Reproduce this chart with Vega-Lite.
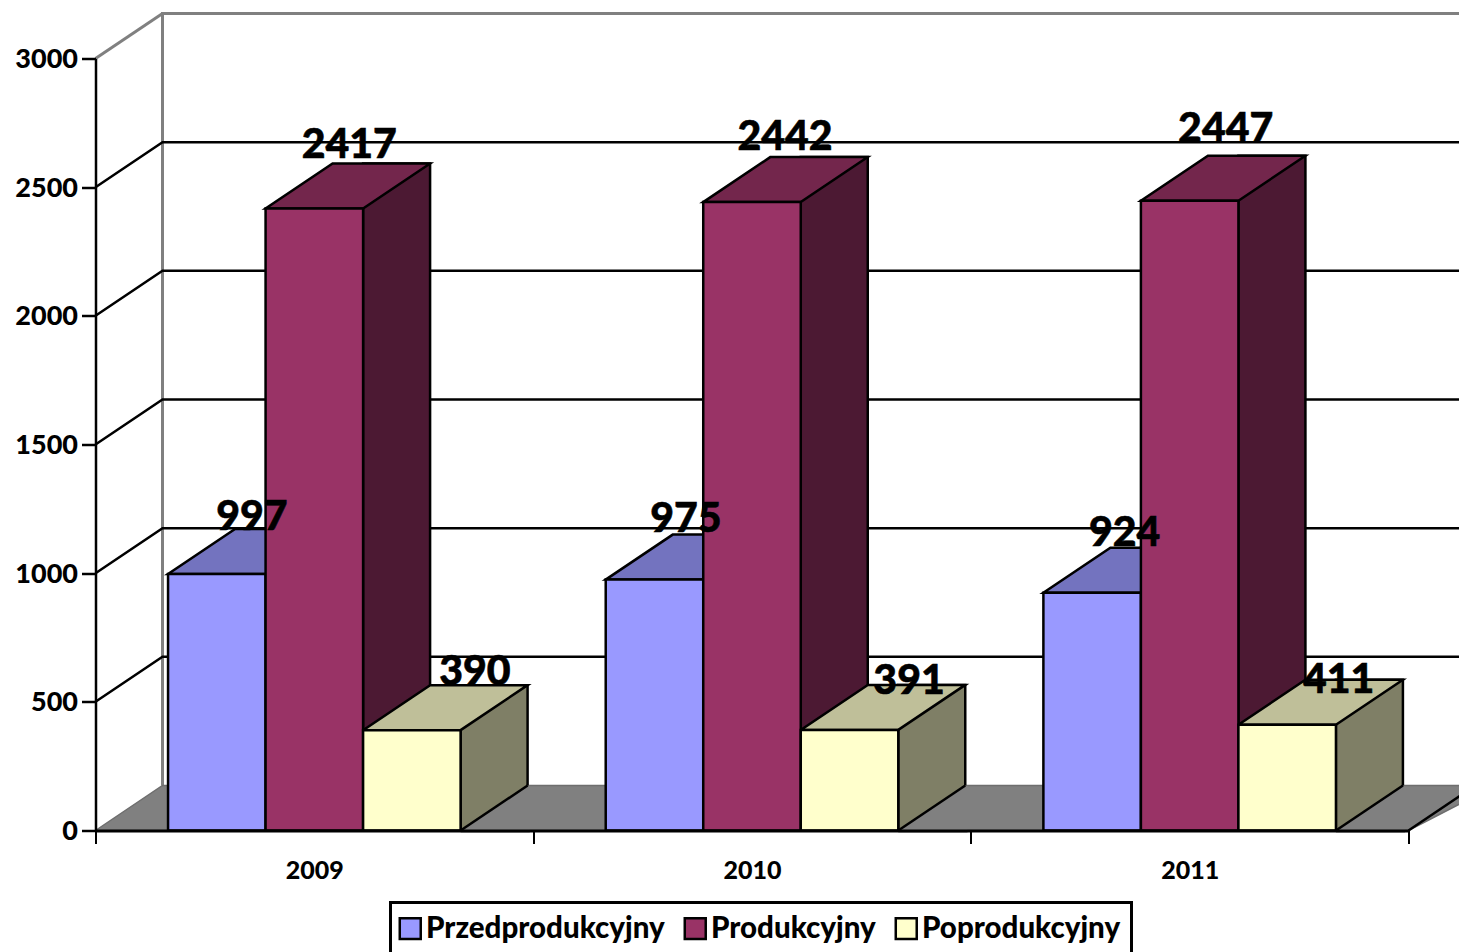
{
"$schema":"https://vega.github.io/schema/vega-lite/v6.json",
"autosize":{"type":"none"},
"padding":{"left":95.5,"top":58.5,"right":50.5,"bottom":121.5},
"width":1313,"height":772,
"background":"white",
"datasets":{
"bars":[
{"year":"2009","series":"Przedprodukcyjny","value":997},
{"year":"2009","series":"Produkcyjny","value":2417},
{"year":"2009","series":"Poprodukcyjny","value":390},
{"year":"2010","series":"Przedprodukcyjny","value":975},
{"year":"2010","series":"Produkcyjny","value":2442},
{"year":"2010","series":"Poprodukcyjny","value":391},
{"year":"2011","series":"Przedprodukcyjny","value":924},
{"year":"2011","series":"Produkcyjny","value":2447},
{"year":"2011","series":"Poprodukcyjny","value":411}],
"ticks":[{"tick":0},{"tick":500},{"tick":1000},{"tick":1500},{"tick":2000},{"tick":2500},{"tick":3000}]
},
"config":{
"font":"Lato",
"view":{"stroke":null},
"text":{"font":"Lato","fontWeight":900,"fontSize":41,"baseline":"middle","align":"center","color":"black","stroke":"black","strokeWidth":0.6},
"point":{"opacity":1,"size":4},
"bar":{"stroke":"black","strokeWidth":2.5,"opacity":1},
"legend":{"strokeWidth":3}
},
"data":{"name":"bars"},
"encoding":{
"x":{"field":"year","type":"nominal","title":null,"scale":{"domain":["2009","2010","2011"],"paddingInner":0,"paddingOuter":0},
"axis":{"zindex":1,"labelAngle":0,"tickBand":"extent","tickSize":13,"tickWidth":2,"tickColor":"black","domainColor":"black","domainWidth":3,"labelFontSize":25,"labelFont":"Lato","labelFontWeight":900,"labelColor":"black","labelPadding":15}},
"y":{"field":"value","type":"quantitative","title":null,"scale":{"domain":[0,3000],"nice":false},
"axis":{"zindex":1,"values":[0,500,1000,1500,2000,2500,3000],"format":"d","grid":false,"tickSize":14,"tickWidth":2.5,"tickColor":"black","domainColor":"black","domainWidth":2.5,"labelFontSize":27,"labelFont":"Lato","labelFontWeight":900,"labelColor":"black","labelPadding":4,"labelOffset":1}}
},
"layer":[
{"data":{"name":"ticks"},"transform":[{"filter":"datum.tick==0"}],
 "mark":{"type":"point","filled":false,"stroke":"#808080","strokeWidth":3,"shape":"M67 -45L67 -817L1400 -817"},
 "encoding":{"x":{"datum":"2009","bandPosition":0},"y":{"field":"tick","type":"quantitative"}}},
{"data":{"name":"ticks"},"transform":[{"filter":"datum.tick==3000"}],
 "mark":{"type":"point","filled":false,"stroke":"#808080","strokeWidth":3,"shape":"M0 0L67 -45"},
 "encoding":{"x":{"datum":"2009","bandPosition":0},"y":{"field":"tick","type":"quantitative"}}},
{"data":{"name":"ticks"},"transform":[{"filter":"datum.tick>0&&datum.tick<3000"}],
 "mark":{"type":"point","filled":false,"stroke":"black","strokeWidth":2.5,"shape":"M0 0L67 -45L1400 -45"},
 "encoding":{"x":{"datum":"2009","bandPosition":0},"y":{"field":"tick","type":"quantitative"}}},
{"data":{"name":"ticks"},"transform":[{"filter":"datum.tick==0"}],
 "mark":{"type":"point","filled":true,"fill":"#808080","stroke":"#6e6e6e","strokeWidth":1.5,"shape":"M0 0L67 -45L1400 -45L1313 0Z"},
 "encoding":{"x":{"datum":"2009","bandPosition":0},"y":{"field":"tick","type":"quantitative"}}},
{"data":{"name":"ticks"},"transform":[{"filter":"datum.tick==0"}],
 "mark":{"type":"point","filled":false,"stroke":"black","strokeWidth":2.5,"shape":"M1313 0L1380 -45"},
 "encoding":{"x":{"datum":"2009","bandPosition":0},"y":{"field":"tick","type":"quantitative"}}},

{"transform":[{"filter":"datum.series=='Przedprodukcyjny'"}],
 "mark":{"type":"bar","width":67,"xOffset":-15.25,"yOffset":-45,"fill":"#4C4C7F"},"encoding":{"y2":{"datum":0}}},
{"transform":[{"filter":"datum.series=='Produkcyjny'"}],
 "mark":{"type":"bar","width":67,"xOffset":82.25,"yOffset":-45,"fill":"#4C1933"},"encoding":{"y2":{"datum":0}}},
{"transform":[{"filter":"datum.series=='Poprodukcyjny'"}],
 "mark":{"type":"bar","width":67,"xOffset":179.75,"yOffset":-45,"fill":"#7F7F66"},"encoding":{"y2":{"datum":0}}},

{"transform":[{"filter":"datum.series=='Przedprodukcyjny'"}],
 "mark":{"type":"point","filled":true,"fill":"#7373BF","stroke":"black","strokeWidth":2.5,"shape":"M-48.75 0L48.75 0L115.75 -45L18.25 -45Z"},
 "encoding":{"xOffset":{"field":"series","type":"nominal"}}},
{"transform":[{"filter":"datum.series=='Produkcyjny'"}],
 "mark":{"type":"point","filled":true,"fill":"#73264C","stroke":"black","strokeWidth":2.5,"shape":"M-48.75 0L48.75 0L115.75 -45L18.25 -45Z"},
 "encoding":{"xOffset":{"field":"series","type":"nominal"}}},
{"transform":[{"filter":"datum.series=='Poprodukcyjny'"}],
 "mark":{"type":"point","filled":true,"fill":"#BFBF99","stroke":"black","strokeWidth":2.5,"shape":"M-48.75 0L48.75 0L115.75 -45L18.25 -45Z"},
 "encoding":{"xOffset":{"field":"series","type":"nominal"}}},

{"transform":[{"filter":"datum.series=='Poprodukcyjny'"}],
 "mark":{"type":"point","filled":true,"fill":"#808080","strokeWidth":0,"shape":"M48.75 0L115.75 -45L118 -45L118 2L48.75 2Z"},
 "encoding":{"xOffset":{"field":"series","type":"nominal"},"y":{"datum":0}}},
{"transform":[{"filter":"datum.series=='Poprodukcyjny'"}],
 "mark":{"type":"point","filled":false,"stroke":"black","strokeWidth":2.5,"shape":"M48.75 0L115.75 -45"},
 "encoding":{"xOffset":{"field":"series","type":"nominal"},"y":{"datum":0}}},

{"mark":{"type":"bar"},
 "encoding":{
  "xOffset":{"field":"series","type":"nominal","scale":{"domain":["Przedprodukcyjny","Produkcyjny","Poprodukcyjny"],"paddingInner":0,"paddingOuter":0.744}},
  "color":{"field":"series","type":"nominal","scale":{"domain":["Przedprodukcyjny","Produkcyjny","Poprodukcyjny"],"range":["#9999FF","#993366","#FFFFCC"]},
   "legend":{"title":null,"orient":"none","legendX":295,"legendY":844,"direction":"horizontal","symbolType":"square","symbolSize":440,"symbolStrokeColor":"black","symbolStrokeWidth":2.5,"symbolOpacity":1,"labelFontSize":29.5,"labelFont":"Lato","labelFontWeight":900,"labelColor":"black","labelLimit":400,"labelOffset":1,"strokeColor":"black","fillColor":"white","padding":11,"columnPadding":14,"symbolOffset":-6}}
 }},

{"transform":[{"filter":"datum.year=='2009'&&datum.series=='Przedprodukcyjny'"}],"mark":{"type":"text","dx":35,"dy":-56},"encoding":{"xOffset":{"field":"series","type":"nominal"},"text":{"field":"value","type":"quantitative"}}},
{"transform":[{"filter":"datum.year=='2009'&&datum.series=='Produkcyjny'"}],"mark":{"type":"text","dx":35,"dy":-63},"encoding":{"xOffset":{"field":"series","type":"nominal"},"text":{"field":"value","type":"quantitative"}}},
{"transform":[{"filter":"datum.year=='2009'&&datum.series=='Poprodukcyjny'"}],"mark":{"type":"text","dx":63,"dy":-57},"encoding":{"xOffset":{"field":"series","type":"nominal"},"text":{"field":"value","type":"quantitative"}}},
{"transform":[{"filter":"datum.year=='2010'&&datum.series=='Przedprodukcyjny'"}],"mark":{"type":"text","dx":31.5,"dy":-59.5},"encoding":{"xOffset":{"field":"series","type":"nominal"},"text":{"field":"value","type":"quantitative"}}},
{"transform":[{"filter":"datum.year=='2010'&&datum.series=='Produkcyjny'"}],"mark":{"type":"text","dx":33,"dy":-64},"encoding":{"xOffset":{"field":"series","type":"nominal"},"text":{"field":"value","type":"quantitative"}}},
{"transform":[{"filter":"datum.year=='2010'&&datum.series=='Poprodukcyjny'"}],"mark":{"type":"text","dx":59.5,"dy":-48},"encoding":{"xOffset":{"field":"series","type":"nominal"},"text":{"field":"value","type":"quantitative"}}},
{"transform":[{"filter":"datum.year=='2011'&&datum.series=='Przedprodukcyjny'"}],"mark":{"type":"text","dx":32.5,"dy":-59},"encoding":{"xOffset":{"field":"series","type":"nominal"},"text":{"field":"value","type":"quantitative"}}},
{"transform":[{"filter":"datum.year=='2011'&&datum.series=='Produkcyjny'"}],"mark":{"type":"text","dx":36,"dy":-71},"encoding":{"xOffset":{"field":"series","type":"nominal"},"text":{"field":"value","type":"quantitative"}}},
{"transform":[{"filter":"datum.year=='2011'&&datum.series=='Poprodukcyjny'"}],"mark":{"type":"text","dx":51.5,"dy":-44},"encoding":{"xOffset":{"field":"series","type":"nominal"},"text":{"field":"value","type":"quantitative"}}}
]
}
